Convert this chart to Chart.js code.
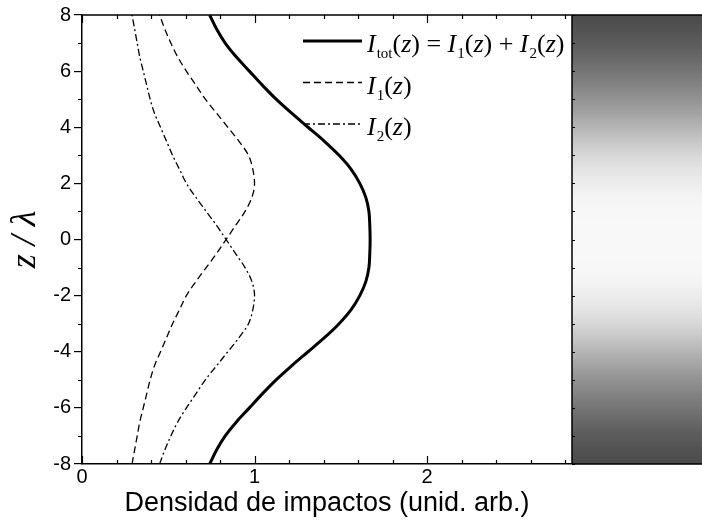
<!DOCTYPE html>
<html>
<head>
<meta charset="utf-8">
<script src="https://cdn.jsdelivr.net/npm/chart.js@4.4.1/dist/chart.umd.min.js"></script>
<style>
  html, body { margin: 0; padding: 0; background: #fff; }
</style>
</head>
<body>
<canvas id="myChart" width="702" height="524"></canvas>
<script>
// position along the standing wave, in units of lambda
const zValues = [-8, -7.5, -7, -6.5, -6, -5.5, -5, -4.5, -4, -3.5, -3, -2.5, -2, -1.5, -1, -0.5,
  0, 0.5, 1, 1.5, 2, 2.5, 3, 3.5, 4, 4.5, 5, 5.5, 6, 6.5, 7, 7.5, 8];

// impact density of each beam and the total (arb. units)
const i1Values = [0.29, 0.305, 0.32, 0.335, 0.355, 0.375, 0.395, 0.42, 0.455, 0.49, 0.525, 0.565, 0.605, 0.66, 0.72, 0.78,
  0.835, 0.89, 0.945, 0.985, 1.0, 0.99, 0.965, 0.91, 0.845, 0.78, 0.715, 0.66, 0.605, 0.555, 0.515, 0.48, 0.45];
const i2Values = [0.45, 0.48, 0.515, 0.555, 0.605, 0.66, 0.715, 0.78, 0.845, 0.91, 0.965, 0.99, 1.0, 0.985, 0.945, 0.89,
  0.835, 0.78, 0.72, 0.66, 0.605, 0.565, 0.525, 0.49, 0.455, 0.42, 0.395, 0.375, 0.355, 0.335, 0.32, 0.305, 0.29];
const itotValues = [0.74, 0.78, 0.83, 0.895, 0.97, 1.045, 1.125, 1.215, 1.31, 1.405, 1.49, 1.56, 1.61, 1.645, 1.663, 1.668,
  1.67, 1.668, 1.663, 1.645, 1.61, 1.56, 1.49, 1.405, 1.31, 1.215, 1.125, 1.045, 0.97, 0.895, 0.83, 0.78, 0.74];

const xTicks = [0, 1, 2];
const yTicks = [-8, -6, -4, -2, 0, 2, 4, 6, 8];

const serif = "'Liberation Serif', 'Times New Roman', serif";
const sans = "'Liberation Sans', Arial, sans-serif";

function toPoints(values) {
  return zValues.map((z, k) => ({ x: values[k], y: z }));
}

// legend entries: pieces of math text [text, kind]
const legendItems = [
  { dash: [], width: 3, parts: [['I', 'it'], ['tot', 'sub'], ['(', 'rm'], ['z', 'it'], [') = ', 'rm'], ['I', 'it'], ['1', 'sub'],
      ['(', 'rm'], ['z', 'it'], [') + ', 'rm'], ['I', 'it'], ['2', 'sub'], ['(', 'rm'], ['z', 'it'], [')', 'rm']] },
  { dash: [7, 4], width: 1.3, parts: [['I', 'it'], ['1', 'sub'], ['(', 'rm'], ['z', 'it'], [')', 'rm']] },
  { dash: [7, 3, 2, 3], width: 1.3, parts: [['I', 'it'], ['2', 'sub'], ['(', 'rm'], ['z', 'it'], [')', 'rm']] }
];

function drawMath(ctx, x, y, parts) {
  ctx.textBaseline = 'alphabetic';
  ctx.textAlign = 'left';
  for (const [t, kind] of parts) {
    if (kind === 'sub') {
      ctx.font = '15px ' + serif;
      ctx.fillText(t, x + 1, y + 6);
      x += ctx.measureText(t).width + 1;
    } else {
      ctx.font = (kind === 'it' ? 'italic ' : '') + '26px ' + serif;
      ctx.fillText(t, x, y);
      x += ctx.measureText(t).width;
    }
  }
}

const framePlugin = {
  id: 'frame',
  afterDraw(chart) {
    const { ctx, chartArea: a, scales: { x, y } } = chart;
    const W = chart.width;
    ctx.save();

    // grey panel: brightness follows the total density
    const grad = ctx.createLinearGradient(0, a.top, 0, a.bottom);
    zValues.forEach((z, k) => {
      const g = Math.max(0, Math.min(255, Math.round(-64 + 187 * itotValues[k])));
      const pos = (y.getPixelForValue(z) - a.top) / (a.bottom - a.top);
      grad.addColorStop(Math.max(0, Math.min(1, pos)), `rgb(${g},${g},${g})`);
    });
    ctx.fillStyle = grad;
    ctx.fillRect(a.right, a.top, W - a.right, a.bottom - a.top);

    ctx.strokeStyle = '#000';
    ctx.lineWidth = 1.5;
    ctx.beginPath();
    ctx.moveTo(a.left, a.top); ctx.lineTo(W, a.top);
    ctx.moveTo(a.right, a.bottom); ctx.lineTo(W, a.bottom);
    ctx.moveTo(a.right, a.top); ctx.lineTo(a.right, a.bottom);
    ctx.stroke();

    // inward ticks on bottom and top
    ctx.lineWidth = 1.2;
    ctx.beginPath();
    for (let k = 0; k <= 14; k++) {
      const v = k * 0.2;
      const px = Math.round(x.getPixelForValue(v)) + 0.5;
      const len = (k % 5 === 0) ? 8 : 4;
      ctx.moveTo(px, a.bottom); ctx.lineTo(px, a.bottom - len);
      ctx.moveTo(px, a.top); ctx.lineTo(px, a.top + len);
    }
    // minor ticks on the left, small ticks on the right edge
    for (let v = -8; v <= 8; v++) {
      const py = Math.round(y.getPixelForValue(v)) + 0.5;
      if (v % 2 !== 0) {
        ctx.moveTo(a.left, py); ctx.lineTo(a.left - 4, py);
      }
      ctx.moveTo(a.right, py); ctx.lineTo(a.right + 3, py);
    }
    ctx.stroke();

    // legend
    ctx.fillStyle = '#000';
    legendItems.forEach((item, k) => {
      const base = 52 + k * 41.5;
      ctx.beginPath();
      ctx.setLineDash(item.dash);
      ctx.lineWidth = item.width;
      ctx.moveTo(303, base - 11);
      ctx.lineTo(362, base - 11);
      ctx.stroke();
      ctx.setLineDash([]);
      drawMath(ctx, 367, base, item.parts);
    });
    ctx.restore();
  }
};

const lineStyle = { borderColor: '#000', showLine: true, pointRadius: 0, cubicInterpolationMode: 'monotone' };

const data = {
  datasets: [
    { ...lineStyle, label: 'Itot', data: toPoints(itotValues), borderWidth: 3 },
    { ...lineStyle, label: 'I1', data: toPoints(i1Values), borderWidth: 1.3, borderDash: [7, 4] },
    { ...lineStyle, label: 'I2', data: toPoints(i2Values), borderWidth: 1.3, borderDash: [7, 3, 2, 3] }
  ]
};

const config = {
  type: 'scatter',
  data: data,
  options: {
    indexAxis: 'y',
    responsive: false,
    animation: false,
    devicePixelRatio: 1,
    layout: { padding: { top: 15, right: 130, left: 0, bottom: 0 } },
    plugins: { legend: { display: false }, tooltip: { enabled: false } },
    scales: {
      x: {
        type: 'linear', min: 0, max: 2.84,
        afterBuildTicks: s => { s.ticks = xTicks.map(v => ({ value: v })); },
        afterFit: s => { s.height = 60; },
        ticks: { color: '#000', font: { family: sans, size: 20 }, padding: 1, maxRotation: 0 },
        grid: { drawOnChartArea: false, drawTicks: false },
        border: { color: '#000', width: 1.5 },
        title: { display: true, text: 'Densidad de impactos (unid. arb.)', color: '#000',
          font: { family: sans, size: 27 }, padding: { top: 0, bottom: 4 } }
      },
      y: {
        type: 'linear', min: -8, max: 8,
        afterBuildTicks: s => { s.ticks = yTicks.map(v => ({ value: v })); },
        afterFit: s => { s.width = 82; },
        ticks: { color: '#000', font: { family: sans, size: 20 }, padding: 3 },
        grid: { drawOnChartArea: false, drawTicks: true, tickLength: 8, color: '#000', lineWidth: 1.2 },
        border: { color: '#000', width: 1.5 },
        title: { display: true, text: 'z / λ', color: '#000',
          font: { family: serif, size: 36, style: 'italic' }, padding: { top: 4, bottom: 0 } }
      }
    }
  },
  plugins: [framePlugin]
};

const myChart = new Chart(document.getElementById('myChart'), config);
</script>
</body>
</html>
